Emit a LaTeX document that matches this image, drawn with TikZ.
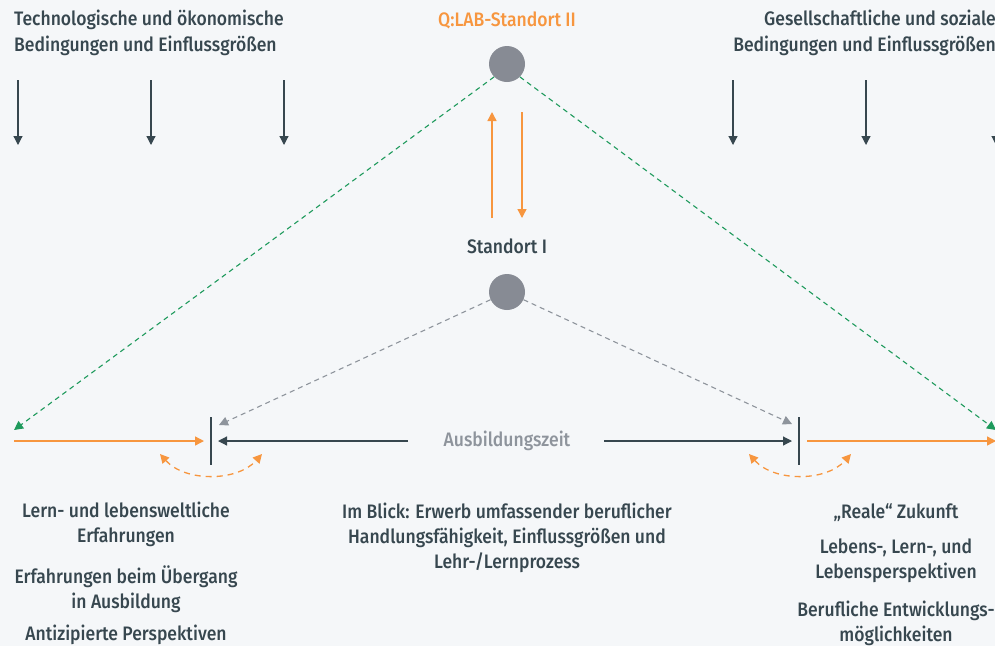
\documentclass[tikz,border=0pt]{standalone}
\usepackage{fontspec}
\setmainfont[FakeStretch=0.9, UprightFont=* Medium]{Fira Sans}
\usetikzlibrary{arrows.meta}
\definecolor{bgc}{HTML}{F5F7F9}
\definecolor{ink}{HTML}{37474F}
\definecolor{orng}{HTML}{F7963F}
\definecolor{grn}{HTML}{1E9A5C}
\definecolor{dotc}{HTML}{878B94}
\definecolor{soft}{HTML}{8E949C}
\tikzset{
  x=1pt,y=-1pt,
  txt/.style={font=\fontsize{19.5}{25}\selectfont, text=ink, inner sep=0pt, align=center},
  hub/.style={circle, fill=dotc, minimum size=36pt, inner sep=0pt},
  tip/.style={-{Triangle[length=9pt,width=9pt]}},
  down/.style={draw=ink, line width=1.2pt, tip},
  flow/.style={draw=orng, line width=1.4pt, tip},
  green link/.style={draw=grn, line width=1.1pt, dash pattern=on 5pt off 4pt, tip},
  grey link/.style={draw=soft, line width=1.1pt, dash pattern=on 5pt off 4pt, tip},
  bar/.style={draw=ink, line width=1.5pt},
  swing/.style={draw=orng, line width=1.3pt, dash pattern=on 6pt off 5pt, {Triangle[length=9pt,width=9pt]}-{Triangle[length=9pt,width=9pt]}},
}
\begin{document}
\begin{tikzpicture}
\fill[bgc] (0,0) rectangle (995,646);
\useasboundingbox (0,0) rectangle (995,646);
\begin{scope}
\clip (0,0) rectangle (995,646);

% headings
\node[txt, align=left, anchor=west, font=\fontsize{19.5}{26}\selectfont] (tech) at (14,33) {Technologische und ökonomische\\Bedingungen und Einflussgrößen};
\node[txt, align=right, anchor=east, font=\fontsize{19.5}{26}\selectfont] (soc) at (996,33) {Gesellschaftliche und soziale\\Bedingungen und Einflussgrößen};
\node[txt, text=orng] (lab) at (507,20) {Q:LAB-Standort II};
\node[txt] (s1lbl) at (507,246) {Standort I};

% influence arrows
\foreach \i/\xx in {1/18,2/151,3/284,4/733,5/866,6/996} {
  \coordinate (a\i) at (\xx,80);
  \coordinate (b\i) at (\xx,145);
  \draw[down] (a\i) -- (b\i);
}

% sites
\node[hub] (s2) at (507,64) {};
\node[hub] (s1) at (507,292) {};

% exchange between sites
\coordinate (upS) at (492,218);
\coordinate (upE) at (492,112);
\coordinate (dnS) at (522,112);
\coordinate (dnE) at (522,218);
\draw[flow] (upS) -- (upE);
\draw[flow] (dnS) -- (dnE);

% time line
\coordinate (lEnd) at (14,441);
\coordinate (rEnd) at (996,441);
\coordinate (lBarT) at (211,417);
\coordinate (lBarB) at (211,465);
\coordinate (rBarT) at (799,417);
\coordinate (rBarB) at (799,465);
\draw[bar] (lBarT) -- (lBarB);
\draw[bar] (rBarT) -- (rBarB);
\node[txt, text=soft] (zeit) at (507,441) {Ausbildungszeit};
\coordinate (lIn) at (204,441);
\coordinate (lOut) at (218,441);
\coordinate (rIn) at (792,441);
\coordinate (rOut) at (807,441);
\draw[flow] (lEnd) -- (lIn);
\draw[down] (408,441) -- (lOut);
\draw[down] (604,441) -- (rIn);
\draw[flow] (rOut) -- (rEnd);

% green links from site II
\coordinate (gL) at (14,430);
\coordinate (gR) at (996,430);
\draw[green link] (s2.225) -- (gL);
\draw[green link] (s2.-45) -- (gR);

% grey links from site I
\coordinate (kL) at (219,425);
\coordinate (kR) at (792,424);
\draw[grey link] (s1.205) -- (kL);
\draw[grey link] (s1.-25) -- (kR);

% transition swings
\coordinate (wL1) at (160,454);
\coordinate (wL2) at (262,454);
\coordinate (wR1) at (749,454);
\coordinate (wR2) at (851,454);
\draw[swing] (wL1) .. controls (185,482) and (237,482) .. (wL2);
\draw[swing] (wR1) .. controls (774,482) and (826,482) .. (wR2);

% descriptions
\node[txt] (pastA) at (126,524) {Lern- und lebensweltliche\\Erfahrungen};
\node[txt] (pastB) at (126,589) {Erfahrungen beim Übergang\\in Ausbildung};
\node[txt] (pastC) at (126,635) {Antizipierte Perspektiven};
\node[txt] (mid) at (507,538) {Im Blick: Erwerb umfassender beruflicher\\Handlungsfähigkeit, Einflussgrößen und\\Lehr-/Lernprozess};
\node[txt] (futA) at (896,513) {„Reale“ Zukunft};
\node[txt] (futB) at (896,561) {Lebens-, Lern-, und\\Lebensperspektiven};
\node[txt] (futC) at (896,623) {Berufliche Entwicklungs-\\möglichkeiten};
\end{scope}
\end{tikzpicture}
\end{document}
